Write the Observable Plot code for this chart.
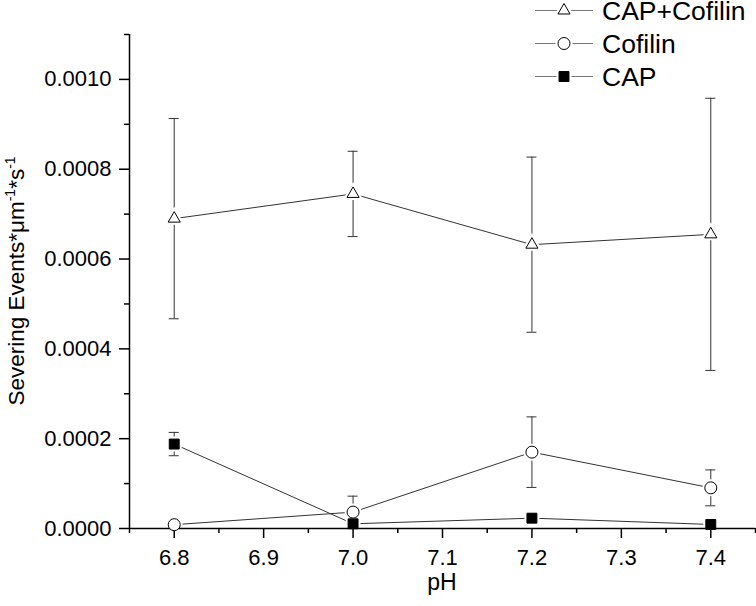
<!DOCTYPE html>
<html><head><meta charset="utf-8">
<script src="https://cdn.jsdelivr.net/npm/d3@7"></script>
<script src="https://cdn.jsdelivr.net/npm/@observablehq/plot@0.6"></script>
<style>
body{margin:0;background:#fff;}
#wrap{position:relative;width:756px;height:606px;font-family:"Liberation Sans",Arial,sans-serif;}
</style></head><body><div id="wrap"></div>
<script>
// ---- data ----
const pH = [6.8, 7.0, 7.2, 7.4];
const seriesNames = ["CAP+Cofilin", "Cofilin", "CAP"];
const capCofilin    = [0.000690, 0.000745, 0.000632, 0.000655];
const capCofilinErr = [0.000223, 0.000095, 0.000195, 0.000303];
const cofilin       = [0.0000085, 0.0000365, 0.000170, 0.0000905];
const cofilinErr    = [0.0000085, 0.0000355, 0.0000785, 0.0000400];
const cap           = [0.000188, 0.0000105, 0.0000230, 0.0000090];
const capErr        = [0.000026, 0.000003, 0.000003, 0.000003];
const xTicks = [6.8, 6.9, 7.0, 7.1, 7.2, 7.3, 7.4];
const xMinorTicks = [6.75, 6.85, 6.95, 7.05, 7.15, 7.25, 7.35, 7.45];
const yTicks = [0, 0.0002, 0.0004, 0.0006, 0.0008, 0.0010];
const yMinorTicks = [0.0001, 0.0003, 0.0005, 0.0007, 0.0009, 0.0011];
const xDomain = [6.75, 7.45];
const yDomain = [0, 0.0011];
const xTitle = "pH";
const yTitleParts = [["Severing Events*μm", false], ["-1", true], ["*s", false], ["-1", true]];

// ---- build table ----
const values = {"CAP+Cofilin": [capCofilin, capCofilinErr], "Cofilin": [cofilin, cofilinErr], "CAP": [cap, capErr]};
const rows = seriesNames.flatMap(s => pH.map((x, i) => ({series: s, pH: x, v: values[s][0][i], e: values[s][1][i]})));
const style = {
  "CAP+Cofilin": {symbol: "triangle", r: 4.5, fill: "white"},
  "Cofilin": {symbol: "circle", r: 6, fill: "white"},
  "CAP": {symbol: "square", r: 5.6, fill: "black"}
};
const W = 756, H = 606, mL = 129, mR = 1, mT = 34, mB = 78;
const lineColor = "#333";
const axisW = 1.5;

const marks = [
  Plot.line(rows, {x: "pH", y: "v", z: "series", stroke: lineColor, strokeWidth: 1}),
  Plot.ruleX(rows, {x: "pH", y1: d => d.v - d.e, y2: d => d.v + d.e, stroke: lineColor, strokeWidth: 1}),
  Plot.ruleY(rows, {x1: "pH", x2: "pH", y: d => d.v + d.e, insetLeft: -5, insetRight: -5, stroke: lineColor, strokeWidth: 1}),
  Plot.ruleY(rows, {x1: "pH", x2: "pH", y: d => d.v - d.e, insetLeft: -5, insetRight: -5, stroke: lineColor, strokeWidth: 1})
];
for (const s of seriesNames) {
  const st = style[s];
  marks.push(Plot.dot(rows.filter(d => d.series === s), {x: "pH", y: "v", symbol: st.symbol, r: st.r, fill: "white", stroke: "white", strokeWidth: 5}));
}
marks.push(
  Plot.ruleY([yDomain[0]], {stroke: "black", strokeWidth: axisW}),
  Plot.ruleX([xDomain[0]], {stroke: "black", strokeWidth: axisW}),
  Plot.axisX({ticks: xTicks, tickSize: 10, tickPadding: 11, tickFormat: d3.format(".1f"), fontSize: 22, label: null, stroke: "black", strokeWidth: axisW}),
  Plot.axisX({ticks: xMinorTicks, tickSize: 5, tickFormat: () => "", label: null, stroke: "black", strokeWidth: axisW}),
  Plot.axisY({ticks: yTicks, tickSize: 10, tickPadding: 8, tickFormat: d3.format(".4f"), fontSize: 22, label: null, stroke: "black", strokeWidth: axisW}),
  Plot.axisY({ticks: yMinorTicks, tickSize: 5, tickFormat: () => "", label: null, stroke: "black", strokeWidth: axisW})
);
for (const s of seriesNames) {
  const st = style[s];
  marks.push(Plot.dot(rows.filter(d => d.series === s), {x: "pH", y: "v", symbol: st.symbol, r: st.r, fill: st.fill, stroke: "black", strokeWidth: 1}));
}

const chart = Plot.plot({
  width: W, height: H,
  marginLeft: mL, marginRight: mR, marginTop: mT, marginBottom: mB,
  x: {domain: xDomain},
  y: {domain: yDomain},
  style: {fontFamily: '"Liberation Sans", Arial, sans-serif', color: "black", background: "white", overflow: "visible"},
  marks
});
document.getElementById("wrap").appendChild(chart);

// ---- axis titles ----
const svg = d3.select(chart);
svg.append("text")
  .attr("x", mL + (W - mL - mR) / 2).attr("y", 590)
  .attr("text-anchor", "middle").attr("font-size", 23).attr("fill", "black")
  .text(xTitle);
const yt = svg.append("text")
  .attr("transform", `translate(24,${mT + (H - mT - mB) / 2}) rotate(-90)`)
  .attr("text-anchor", "middle").attr("font-size", 22.5).attr("fill", "black");
for (const [t, sup] of yTitleParts) {
  const ts = yt.append("tspan").text(t);
  if (sup) ts.attr("font-size", 14).attr("dy", -9);
  else ts.attr("dy", t === yTitleParts[0][0] ? 0 : 9);
}

// ---- legend ----
const lg = svg.append("g").attr("font-size", 26.5).attr("fill", "black").attr("text-anchor", "start");
seriesNames.forEach((s, i) => {
  const cy = 10.5 + i * 33;
  const st = style[s];
  const g = lg.append("g").attr("transform", `translate(0,${cy})`);
  g.append("line").attr("x1", 535).attr("x2", 593).attr("y1", 0).attr("y2", 0).attr("stroke", "#777").attr("stroke-width", 1);
  const sym = {triangle: d3.symbolTriangle, circle: d3.symbolCircle, square: d3.symbolSquare}[st.symbol];
  const path = d3.symbol(sym, Math.PI * st.r * st.r)();
  g.append("path").attr("d", path).attr("transform", "translate(564,0)").attr("fill", "white").attr("stroke", "white").attr("stroke-width", 5);
  g.append("path").attr("d", path).attr("transform", "translate(564,0)").attr("fill", st.fill).attr("stroke", "black").attr("stroke-width", 1);
  g.append("text").attr("x", 602).attr("y", 9.5).attr("text-anchor", "start").text(s);
});
</script>
</body></html>
